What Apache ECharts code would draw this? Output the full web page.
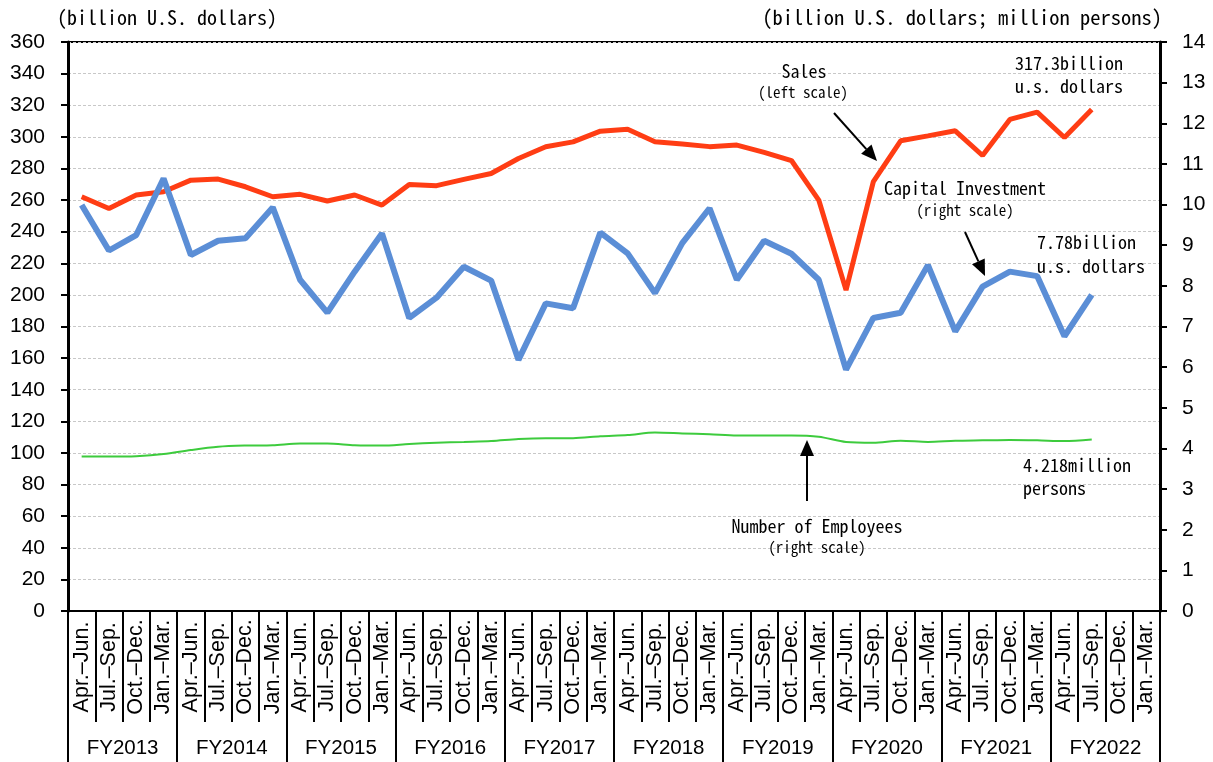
<!DOCTYPE html>
<html>
<head>
<meta charset="utf-8">
<script src="https://cdn.jsdelivr.net/npm/echarts@6/dist/echarts.min.js"></script>
<style>
  html, body { margin: 0; padding: 0; background: #fff; }
  #chart { width: 1213px; height: 762px; }
</style>
</head>
<body>
<div id="chart"></div>
<script>
const RED = "#ff3d14";
const BLUE = "#5b8ed6";
const GREEN = "#3dcb3d";
const GRID_LINE = "#c8c8c8";
const TICK_FONT = "'Liberation Sans', Arial, sans-serif";
const NOTE_FONT = "'Noto Sans Mono CJK JP', 'DejaVu Sans Mono', monospace";

const QUARTERS = ["Apr.–Jun.", "Jul.–Sep.", "Oct.–Dec.", "Jan.–Mar."];
const FISCAL_YEARS = ["FY2013", "FY2014", "FY2015", "FY2016", "FY2017",
  "FY2018", "FY2019", "FY2020", "FY2021", "FY2022"];
const categories = FISCAL_YEARS.flatMap(() => QUARTERS);

// billion U.S. dollars (left scale)
const sales = [262.1, 254.7, 263.2, 265.3, 272.6, 273.3, 268.4, 262.1,
  263.6, 259.4, 263.2, 256.8, 269.9, 269.1, 273.1, 276.8,
  286.3, 293.7, 296.8, 303.6, 304.8, 296.9, 295.5, 293.8,
  294.8, 290.2, 285.0, 260.0, 203.0, 271.6, 297.5, 300.6,
  303.8, 288.2, 311.0, 315.6, 299.6, 317.3, null, null];

// billion U.S. dollars (right scale)
const capitalInvestment = [9.99, 8.87, 9.25, 10.64, 8.76, 9.11, 9.17, 9.93,
  8.15, 7.34, 8.35, 9.29, 7.21, 7.71, 8.47, 8.13,
  6.18, 7.57, 7.45, 9.31, 8.80, 7.82, 9.05, 9.91,
  8.15, 9.11, 8.79, 8.15, 5.94, 7.21, 7.34, 8.51,
  6.88, 7.98, 8.35, 8.24, 6.76, 7.78, null, null];

// million persons (right scale)
const employees = [3.80, 3.80, 3.81, 3.86, 3.96, 4.04, 4.07, 4.08,
  4.12, 4.12, 4.08, 4.07, 4.11, 4.14, 4.16, 4.18,
  4.23, 4.25, 4.25, 4.30, 4.33, 4.39, 4.37, 4.35,
  4.32, 4.32, 4.32, 4.29, 4.16, 4.14, 4.19, 4.16,
  4.19, 4.20, 4.21, 4.20, 4.18, 4.218, null, null];

function note(text, x, y, size, align) {
  return {
    type: "text", x, y, z: 100,
    style: { text, font: `${size}px ${NOTE_FONT}`, fill: "#000", align: align || "left", verticalAlign: "middle" },
  };
}

function arrow(x1, y1, x2, y2) {
  const len = Math.hypot(x2 - x1, y2 - y1);
  const ux = (x2 - x1) / len, uy = (y2 - y1) / len;
  const hl = 16, hw = 7;
  const bx = x2 - ux * hl, by = y2 - uy * hl;
  return [
    { type: "line", z: 100, shape: { x1, y1, x2: bx, y2: by }, style: { stroke: "#000", lineWidth: 2 } },
    { type: "polygon", z: 100,
      shape: { points: [[x2, y2], [bx - uy * hw, by + ux * hw], [bx + uy * hw, by - ux * hw]] },
      style: { fill: "#000" } },
  ];
}

const chart = echarts.init(document.getElementById("chart"), null, { renderer: "canvas" });

const axisLabelBase = { color: "#000", fontFamily: TICK_FONT, fontSize: 21 };

chart.setOption({
  animation: false,
  backgroundColor: "#fff",
  grid: {
    left: 68, right: 53, top: 42, bottom: 151,
    show: true, borderColor: "#000", borderWidth: 2,
    outerBoundsMode: "none",
  },
  xAxis: [
    {
      type: "category",
      data: categories,
      position: "bottom",
      boundaryGap: true,
      axisLine: { show: true, lineStyle: { color: "#000", width: 2 } },
      axisTick: { show: true, interval: 0, length: 111, lineStyle: { color: "#000", width: 2 } },
      axisLabel: { ...axisLabelBase, fontSize: 21.5, interval: 0, rotate: 90, align: "center", verticalAlign: "middle", margin: 56 },
      splitLine: { show: false },
    },
    {
      type: "category",
      data: FISCAL_YEARS,
      position: "bottom",
      boundaryGap: true,
      axisLine: { show: false },
      axisTick: { show: true, interval: 0, length: 151, lineStyle: { color: "#000", width: 2 } },
      axisLabel: { ...axisLabelBase, fontSize: 20.5, interval: 0, verticalAlign: "middle", margin: 137 },
      splitLine: { show: false },
    },
  ],
  yAxis: [
    {
      type: "value",
      min: 0, max: 360, interval: 20,
      position: "left",
      axisLine: { show: true, lineStyle: { color: "#000", width: 3 } },
      axisTick: { show: true, length: 7, lineStyle: { color: "#000", width: 2 } },
      axisLabel: { ...axisLabelBase, margin: 23 },
      splitLine: { show: true, lineStyle: { color: GRID_LINE, type: [3, 2], width: 1 } },
    },
    {
      type: "value",
      min: 0, max: 14, interval: 1,
      position: "right",
      axisLine: { show: true, lineStyle: { color: "#000", width: 3 } },
      axisTick: { show: true, length: 7, lineStyle: { color: "#000", width: 2 } },
      axisLabel: { ...axisLabelBase, margin: 22 },
      splitLine: { show: false },
    },
  ],
  series: [
    {
      name: "Sales", type: "line", xAxisIndex: 0, yAxisIndex: 0,
      data: sales, showSymbol: false, symbol: "none",
      lineStyle: { color: RED, width: 5 }, itemStyle: { color: RED },
    },
    {
      name: "Capital Investment", type: "line", xAxisIndex: 0, yAxisIndex: 1,
      data: capitalInvestment, showSymbol: false, symbol: "none",
      lineStyle: { color: BLUE, width: 6 }, itemStyle: { color: BLUE },
    },
    {
      name: "Number of Employees", type: "line", xAxisIndex: 0, yAxisIndex: 1,
      data: employees, showSymbol: false, symbol: "none", smooth: 0.3,
      lineStyle: { color: GREEN, width: 2 }, itemStyle: { color: GREEN },
    },
  ],
  graphic: [
    note("(billion U.S. dollars)", 57, 17, 20),
    note("(billion U.S. dollars; million persons)", 1162, 17, 20.5, "right"),
    note("Sales", 804, 71, 18, "center"),
    note("(left scale)", 803, 92, 15, "center"),
    note("317.3billion", 1015, 63, 18),
    note("u.s. dollars", 1015, 86, 18),
    ...arrow(834, 113, 877, 161),
    note("Capital Investment", 965, 188, 18, "center"),
    note("(right scale)", 965, 210, 15, "center"),
    note("7.78billion", 1037, 242, 18),
    note("u.s. dollars", 1037, 266, 18),
    ...arrow(965, 232, 985, 276),
    note("Number of Employees", 817, 526, 18, "center"),
    note("(right scale)", 817, 547, 15, "center"),
    note("4.218million", 1023, 465, 18),
    note("persons", 1023, 488, 18),
    ...arrow(807, 501, 807, 440),
  ],
});
</script>
</body>
</html>
